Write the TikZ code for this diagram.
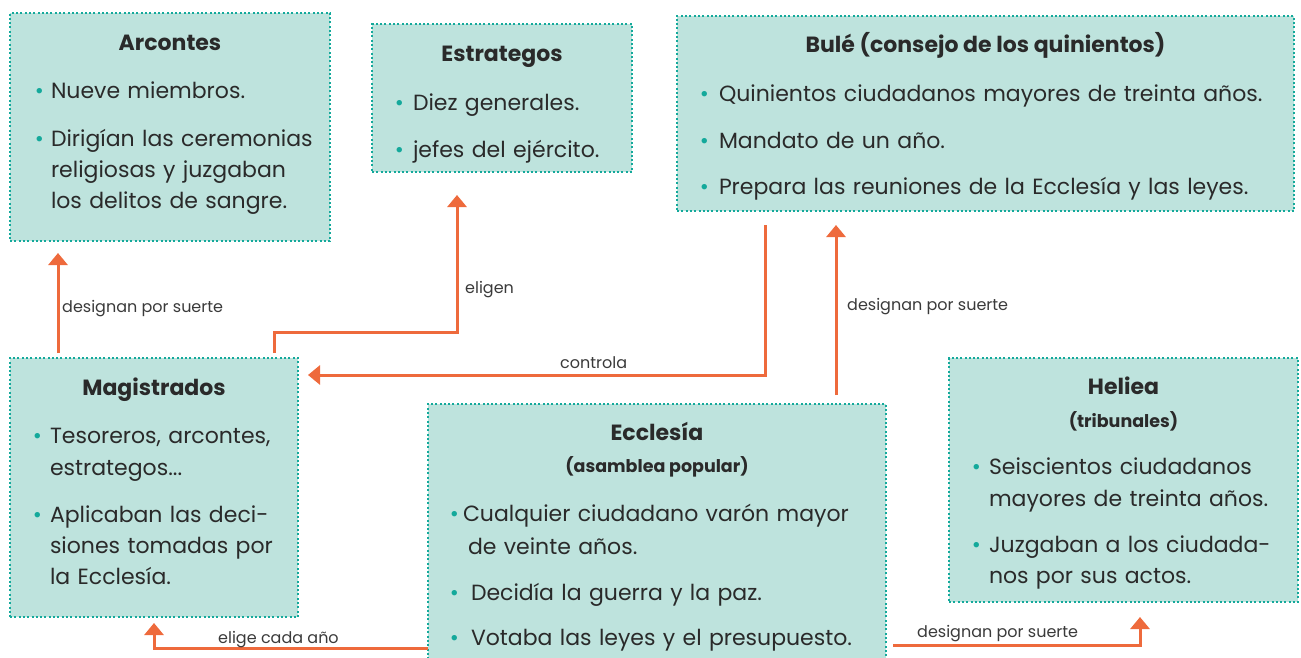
\documentclass[tikz,border=0pt]{standalone}
\usepackage{fontspec}
\setmainfont{Poppins}
\usetikzlibrary{arrows.meta}
\definecolor{boxfill}{HTML}{BEE3DD}
\definecolor{boxline}{HTML}{14A99B}
\definecolor{arrowc}{HTML}{EE6A3C}
\definecolor{txt}{HTML}{2A2A2A}
\definecolor{lbltxt}{HTML}{3A3A3A}
\newlength\bulgap
\setlength\bulgap{8pt}
\newcommand\bulmark{\llap{\textcolor{boxline}{•}\hspace{\bulgap}}}
\newcommand\fitm[1]{\noindent\rule{0pt}{24pt}\bulmark#1}
\newcommand\itm[2][0pt]{\par\vspace{#1}\noindent\rule{0pt}{24pt}\bulmark#2}
\newcommand\bodysetup[1]{\rightskip=0pt\leftskip=0pt\parfillskip=0pt plus 1fil\parindent=0pt\hyphenpenalty=10000\exhyphenpenalty=10000\setlength\bulgap{#1}\relax}
\begin{document}
\begin{tikzpicture}[x=1pt,y=-1pt,
  box/.style={anchor=north west, draw=boxline, fill=boxfill, line width=2pt,
    dash pattern=on 2pt off 2.3pt, inner sep=0pt, outer sep=0pt},
  ttl/.style={anchor=base, inner sep=0pt, text=txt, font=\bfseries\fontsize{22}{26}\selectfont},
  sub/.style={anchor=base, inner sep=0pt, text=txt, font=\bfseries\fontsize{17.5}{20}\selectfont},
  body/.style={anchor=north west, inner sep=0pt, outer sep=0pt, text=txt,
    text width=#1, font=\fontsize{22}{31}\selectfont},
  lbl/.style={anchor=base west, inner sep=0pt, text=lbltxt, font=\fontsize{16}{19}\selectfont},
  arr/.style={draw=arrowc, line width=3pt, -{Triangle[width=19pt,length=12pt]}}]
\useasboundingbox (0,0) rectangle (1301,658);

% boxes
\node[box, minimum width=320pt, minimum height=228pt] (arc) at (10,13) {};
\node[box, minimum width=260pt, minimum height=148pt] (est) at (372,24) {};
\node[box, minimum width=617pt, minimum height=195pt] (bule) at (677,16) {};
\node[box, minimum width=288pt, minimum height=259pt] (mag) at (10,358) {};
\node[box, minimum width=458pt, minimum height=280pt] (ecc) at (428,404) {};
\node[box, minimum width=349pt, minimum height=244pt] (hel) at (949,358) {};

% Arcontes
\node[ttl] (arcH) at (170,51) {Arcontes};
\node[body=263pt] (arcT) at (51,75) {\bodysetup{7pt}%
  \fitm{Nueve miembros.}
  \itm[17pt]{Dirigían las ceremonias\linebreak religiosas y juzgaban\linebreak los delitos de sangre.}};

% Estrategos
\node[ttl] (estH) at (502,62) {Estrategos};
\node[body=215pt] (estT) at (413,87) {\bodysetup{9pt}%
  \fitm{Diez generales.}
  \itm[16pt]{jefes del ejército.}};

% Bule
\node[ttl] (buleH) at (985.5,53) {Bulé (consejo de los quinientos)};
\node[body=572pt] (buleT) at (719,78) {\bodysetup{10pt}%
  \fitm{Quinientos ciudadanos mayores de treinta años.}
  \itm[16pt]{Mandato de un año.}
  \itm[15pt]{Prepara las reuniones de la Ecclesía y las leyes.}};

% Magistrados
\node[ttl] (magH) at (154,395) {Magistrados};
\node[body=231pt] (magT) at (50,419) {\bodysetup{8pt}\baselineskip=32pt
  \fitm{Tesoreros, arcontes,\linebreak estrategos...}
  \itm[16pt]{Aplicaban las deci-\linebreak siones tomadas por\linebreak la Ecclesía.}};

% Ecclesia
\node[ttl] (eccH) at (657,440) {Ecclesía};
\node[sub] (eccS) at (657,472) {(asamblea popular)};
\node[body=409pt] (eccT) at (471,497) {\bodysetup{12pt}\baselineskip=33pt
  \fitm{\hspace*{-8pt}Cualquier ciudadano varón mayor\\\hspace*{-3pt}de veinte años.}
  \itm[13pt]{Decidía la guerra y la paz.}
  \itm[14pt]{Votaba las leyes y el presupuesto.}};

% Heliea
\node[ttl] (helH) at (1123.5,394) {Heliea};
\node[sub] (helS) at (1123.5,427) {(tribunales)};
\node[body=300pt] (helT) at (989,450) {\bodysetup{8pt}\baselineskip=32pt
  \fitm{Seiscientos ciudadanos\\ mayores de treinta años.}
  \itm[14pt]{Juzgaban a los ciudada-\\ nos por sus actos.}};

% connectors
\draw[arr] ([xshift=48pt,yshift=5pt]mag.north west) -- ([xshift=48pt,yshift=-12pt]arc.south west);
\draw[arr] ([xshift=264pt,yshift=5pt]mag.north west) -- ++(0,-21) -| ([xshift=85pt,yshift=-23pt]est.south west);
\draw[arr] ([xshift=88pt,yshift=-14pt]bule.south west) |- ([xshift=10pt,yshift=-17pt]mag.north east);
\draw[arr] ([xshift=408pt,yshift=9pt]ecc.north west) -- ([xshift=159pt,yshift=-14pt]bule.south west);
\draw[arr] ([yshift=-244pt]ecc.north west) -| ([xshift=144pt,yshift=-6pt]mag.south west);
\draw[arr] ([xshift=7pt,yshift=-241pt]ecc.north east) -| ([xshift=191pt,yshift=-15pt]hel.south west);

% labels
\node[lbl] (l1) at (62,312) {designan por suerte};
\node[lbl] (l2) at (465,293) {eligen};
\node[lbl] (l3) at (560,368) {controla};
\node[lbl] (l4) at (847,310) {designan por suerte};
\node[lbl] (l5) at (218,643) {elige cada año};
\node[lbl] (l6) at (917,637) {designan por suerte};
\end{tikzpicture}
\end{document}
